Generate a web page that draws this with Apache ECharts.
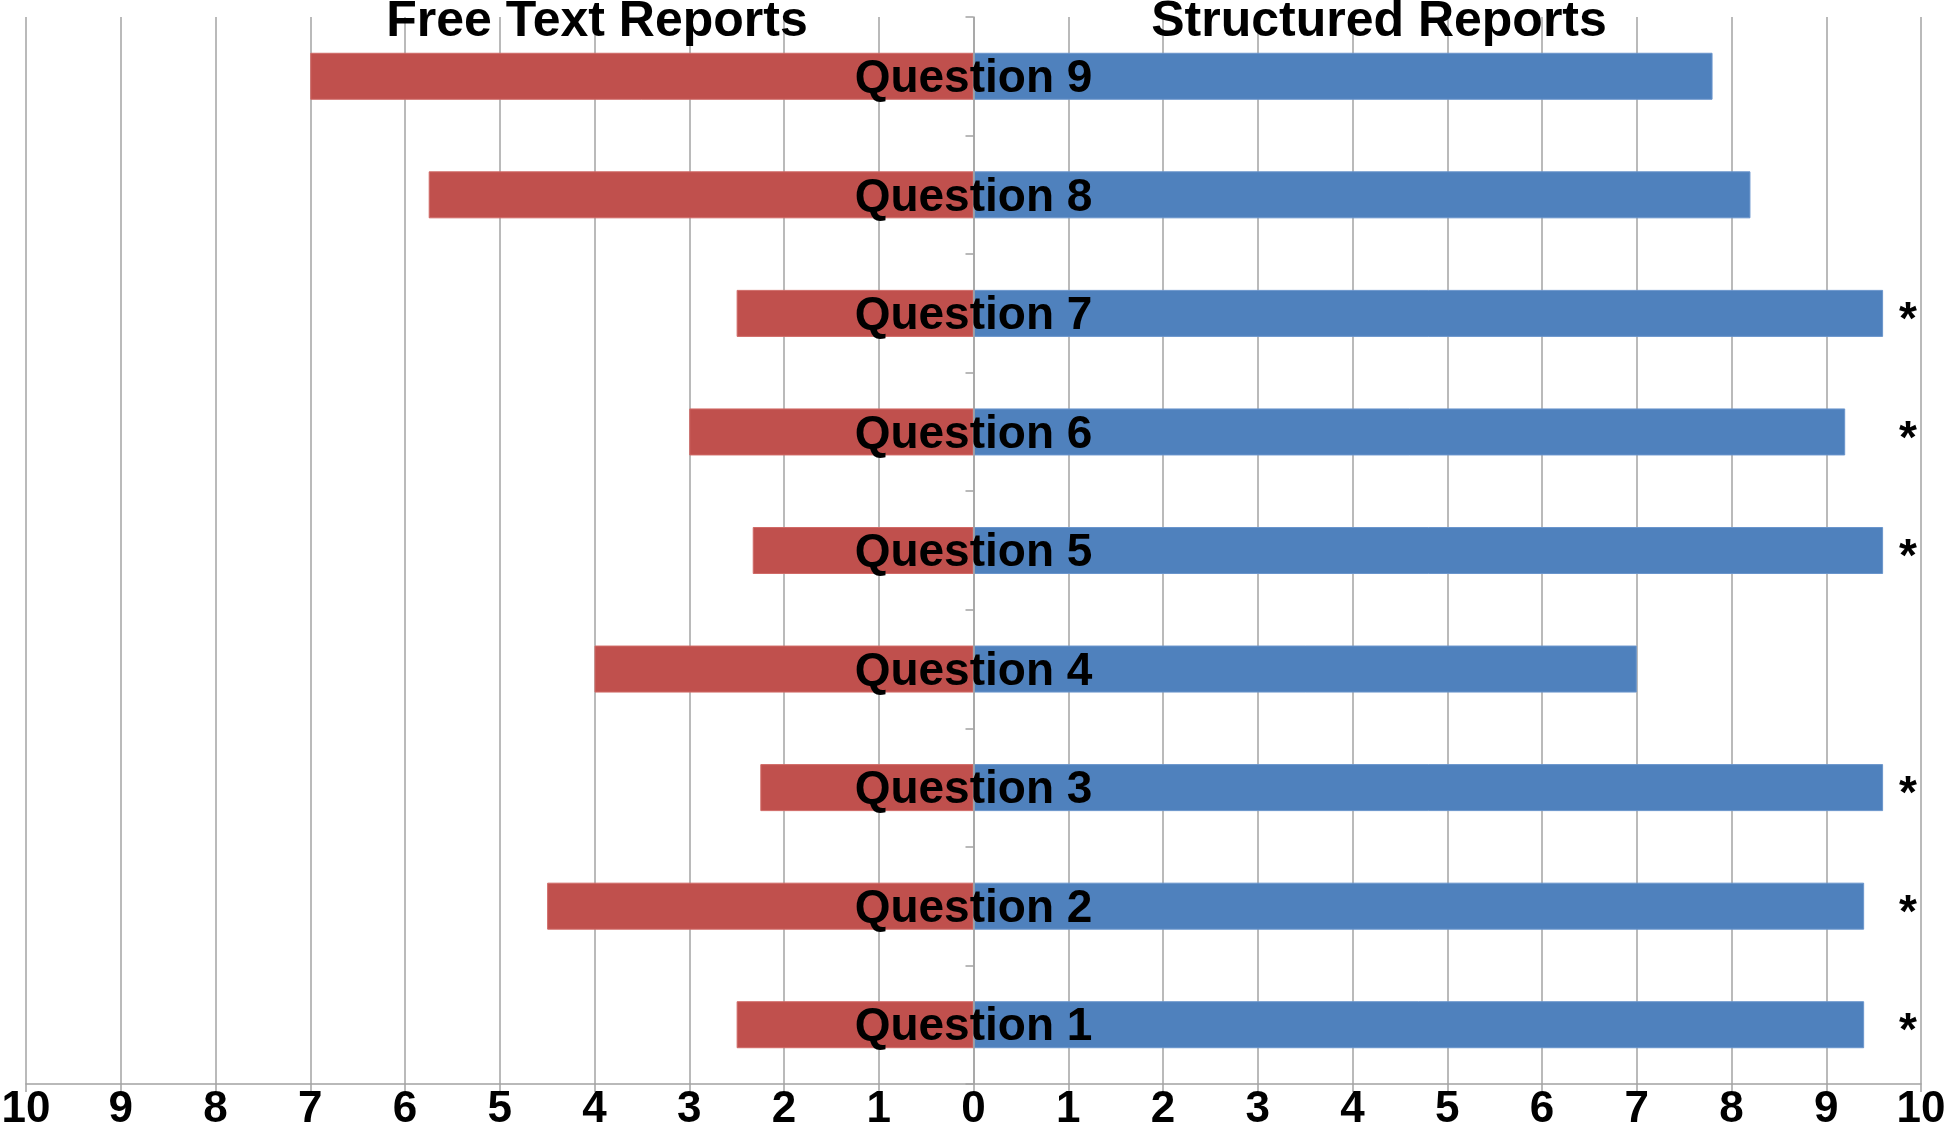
<!DOCTYPE html>
<html>
<head>
<meta charset="utf-8">
<script src="https://cdn.jsdelivr.net/npm/echarts@6/dist/echarts.min.js"></script>
<style>
html,body{margin:0;padding:0;background:#fff;}
#chart{width:1946px;height:1132px;}
</style>
</head>
<body>
<div id="chart"></div>
<script>
const categories = ['Question 1','Question 2','Question 3','Question 4','Question 5','Question 6','Question 7','Question 8','Question 9'];
const freeText = [2.5, 4.5, 2.25, 4.0, 2.33, 3.0, 2.5, 5.75, 7.0];
const structured = [9.4, 9.4, 9.6, 7.0, 9.6, 9.2, 9.6, 8.2, 7.8];
const significant = ['*','*','*','','*','*','*','',''];
const panelTitles = ['Free Text Reports', 'Structured Reports'];

const FONT = '"Liberation Sans", Arial, sans-serif';
const gridColor = '#a3a3a3';
const GRID_LEFT = 26, GRID_RIGHT = 25, CHART_W = 1946;
const plotW = CHART_W - GRID_LEFT - GRID_RIGHT;

const chart = echarts.init(document.getElementById('chart'), null, {renderer: 'canvas'});
chart.setOption({
  animation: false,
  backgroundColor: '#ffffff',
  title: [
    {text: panelTitles[0], left: 592, top: -8, textAlign: 'center',
     textStyle: {fontFamily: FONT, fontWeight: 'bold', fontSize: 50, color: '#000'}},
    {text: panelTitles[1], left: 1374, top: -8, textAlign: 'center',
     textStyle: {fontFamily: FONT, fontWeight: 'bold', fontSize: 50, color: '#000'}}
  ],
  grid: {left: GRID_LEFT, right: GRID_RIGHT, top: 17, bottom: 48, containLabel: false, outerBoundsMode: 'none'},
  xAxis: {
    type: 'value', min: -10, max: 10, interval: 1,
    axisLine: {show: true, onZero: false, lineStyle: {color: gridColor, width: 1.5}},
    axisTick: {show: true, length: 8, lineStyle: {color: gridColor, width: 1.5}},
    splitLine: {show: true, lineStyle: {color: gridColor, width: 1.5}},
    axisLabel: {
      formatter: v => String(Math.abs(v)),
      fontFamily: FONT, fontWeight: 'bold', fontSize: 44, color: '#000', margin: 4
    }
  },
  yAxis: [
    {
      type: 'category', data: categories, z: 10,
      position: 'left', offset: -plotW / 2,
      axisLine: {show: true, onZero: false, lineStyle: {color: gridColor, width: 1.5}},
      axisTick: {show: true, length: 8, lineStyle: {color: gridColor, width: 1.5}},
      axisLabel: {
        show: true, align: 'center', margin: 0, interval: 0,
        fontFamily: FONT, fontWeight: 'bold', fontSize: 46, color: '#000',
        verticalAlign: 'top', lineHeight: 6
      }
    },
    {
      type: 'category', data: significant, position: 'right', z: 10,
      axisLine: {show: false, onZero: false},
      axisTick: {show: false},
      splitLine: {show: false},
      axisLabel: {
        show: true, inside: true, margin: 4, interval: 0,
        fontFamily: FONT, fontWeight: 'bold', fontSize: 46, color: '#000',
        verticalAlign: 'top', lineHeight: 16
      }
    }
  ],
  series: [
    {
      name: panelTitles[0], type: 'bar', stack: 'rows', barWidth: 47,
      data: freeText.map(v => -v),
      itemStyle: {color: '#C0504D', borderColor: '#d06a67', borderWidth: 1}
    },
    {
      name: panelTitles[1], type: 'bar', stack: 'rows', barWidth: 47,
      data: structured,
      itemStyle: {color: '#4F81BD', borderColor: '#6a95cc', borderWidth: 1}
    }
  ]
});
</script>
</body>
</html>
